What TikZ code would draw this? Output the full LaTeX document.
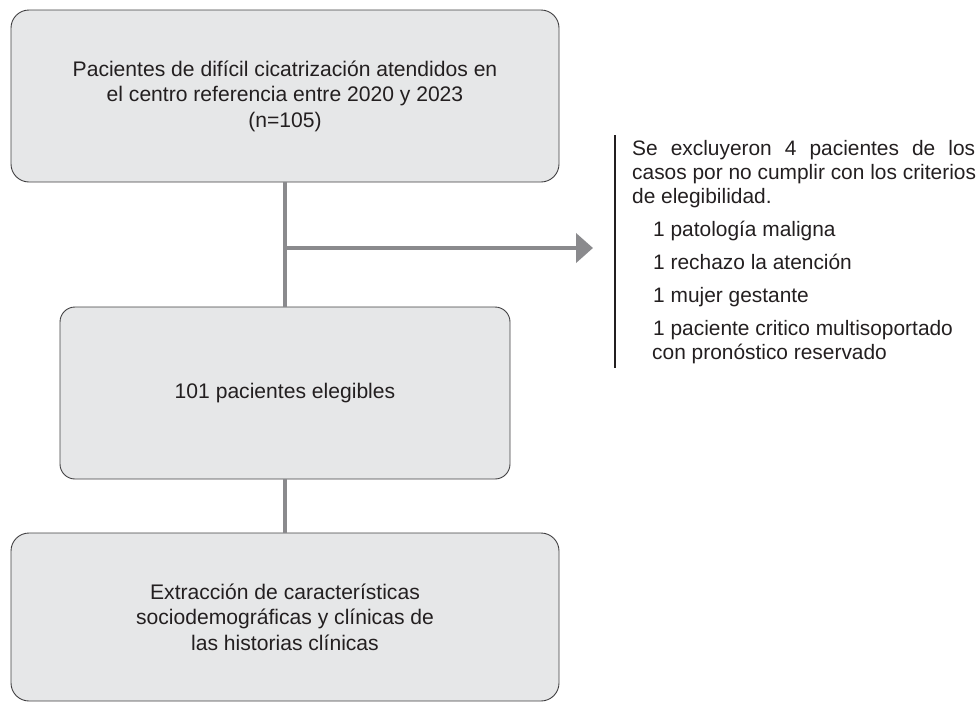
\documentclass[tikz,border=0pt]{standalone}
\usepackage{fontspec}
\setmainfont{Liberation Sans}
\usetikzlibrary{arrows.meta}
\definecolor{boxfill}{HTML}{E6E7E8}
\definecolor{boxline}{HTML}{414042}
\definecolor{connc}{HTML}{8A8A8D}
\definecolor{txt}{HTML}{231F20}
\begin{document}
\begin{tikzpicture}[x=1pt,y=-1pt,
  flowbox/.style={draw=boxline, fill=boxfill, line width=0.9pt, text=txt,
    font=\fontsize{21.1}{25.5}\selectfont, align=center, inner sep=0pt},
  connline/.style={draw=connc, line width=4.6pt},
  bartick/.style={draw=txt, line width=1.1pt},
  extext/.style={anchor=base west, inner sep=0pt, text=txt, font=\fontsize{20.9}{24}\selectfont},
]
\useasboundingbox (0,0) rectangle (978,702);
\node[flowbox, rounded corners=18pt, minimum width=548pt, minimum height=172pt] (top) at (285,96)
  {Pacientes de difícil cicatrización atendidos en\\el centro referencia entre 2020 y 2023\\(n=105)};
\node[flowbox, rounded corners=15pt, minimum width=450pt, minimum height=172pt] (mid) at (285,393)
  {101 pacientes elegibles};
\node[flowbox, rounded corners=18pt, minimum width=548pt, minimum height=168pt] (bot) at (285,617)
  {Extracción de características\\sociodemográficas y clínicas de\\las historias clínicas};
\draw[connline] (top.south) -- (mid.north);
\draw[connline] (mid.south) -- (bot.north);
\coordinate (br) at (285,248);
\coordinate (tip) at (593,248);
\draw[connline, -{Triangle[length=17pt,width=29pt]}] (br) -- (tip);
\coordinate (bartop) at (615,135);
\coordinate (barbot) at (615,368);
\draw[bartick] (bartop) -- (barbot);
\node[extext] (ex1) at (632,155) {\makebox[343pt][s]{Se excluyeron 4 pacientes de los}};
\node[extext] (ex2) at (632,179) {casos por no cumplir con los criterios};
\node[extext] (ex3) at (632,203) {de elegibilidad.};
\node[extext] (it1) at (653,236) {1 patología maligna};
\node[extext] (it2) at (653,269) {1 rechazo la atención};
\node[extext] (it3) at (653,302) {1 mujer gestante};
\node[extext] (it4) at (653,335) {1 paciente critico multisoportado};
\node[extext] (it5) at (652,359) {con pronóstico reservado};
\end{tikzpicture}
\end{document}
